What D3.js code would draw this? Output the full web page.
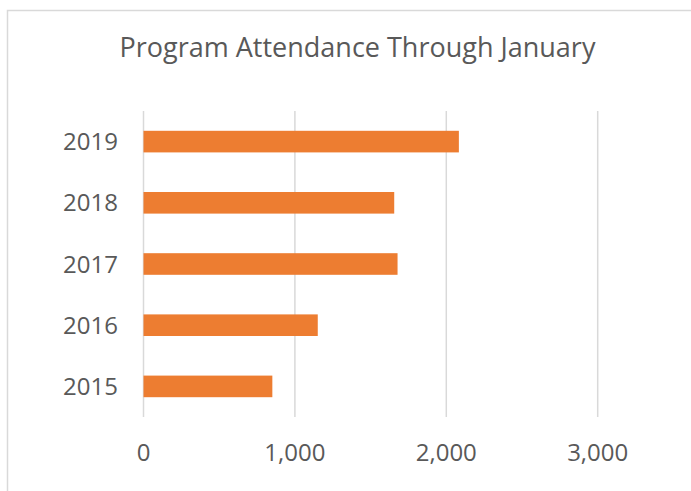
<!DOCTYPE html>
<html>
<head>
<meta charset="utf-8">
<script src="https://cdn.jsdelivr.net/npm/d3@7"></script>
<style>
    html, body { margin: 0; padding: 0; background: #fff; }
    svg { display: block; }
    text { font-family: "Open Sans", sans-serif; fill: #595959; }
</style>
</head>
<body>
<svg id="chart" width="691" height="491"></svg>
<script>
// ---- data ----
const years = ["2019", "2018", "2017", "2016", "2015"];
const attendance = [2083, 1656, 1678, 1151, 851];
const xTicks = [0, 1000, 2000, 3000];
const title = "Program Attendance Through January";

const svg = d3.select("#chart");
const width = 691, height = 491;

// chart area border (cropped on right and bottom)
svg.append("rect")
    .attr("x", 7.5).attr("y", 10.5)
    .attr("width", 700).attr("height", 500)
    .attr("fill", "#fff")
    .attr("stroke", "#d9d9d9")
    .attr("stroke-width", 1.5);

const plot = { left: 143.5, right: 597.7, top: 111, bottom: 417 };

const x = d3.scaleLinear()
    .domain([0, 3000])
    .range([plot.left, plot.right]);

const y = d3.scaleBand()
    .domain(years)
    .range([plot.top, plot.bottom])
    .paddingInner(0.647)
    .paddingOuter(0.3235);

// gridlines
svg.append("g")
    .selectAll("line")
    .data(xTicks)
    .enter()
    .append("line")
    .attr("x1", d => x(d)).attr("x2", d => x(d))
    .attr("y1", plot.top).attr("y2", plot.bottom)
    .attr("stroke", "#d9d9d9")
    .attr("stroke-width", 1.5);

// bars
svg.append("g")
    .selectAll("rect")
    .data(years)
    .enter()
    .append("rect")
    .attr("x", x(0))
    .attr("y", d => y(d))
    .attr("width", (d, i) => x(attendance[i]) - x(0))
    .attr("height", y.bandwidth())
    .attr("fill", "#ed7d31");

// y labels
svg.append("g")
    .selectAll("text")
    .data(years)
    .enter()
    .append("text")
    .attr("x", 118)
    .attr("y", d => y(d) + y.bandwidth() / 2)
    .attr("dy", "0.36em")
    .attr("text-anchor", "end")
    .attr("font-size", "24px")
    .text(d => d);

// x tick labels
const fmt = d3.format(",");
svg.append("g")
    .selectAll("text")
    .data(xTicks)
    .enter()
    .append("text")
    .attr("x", d => x(d))
    .attr("y", 452)
    .attr("dy", "0.36em")
    .attr("text-anchor", "middle")
    .attr("font-size", "24px")
    .text(d => fmt(d));

// title
svg.append("text")
    .attr("x", 357.5)
    .attr("y", 57)
    .attr("text-anchor", "middle")
    .attr("font-size", "27px")
    .text(title);
</script>
</body>
</html>
